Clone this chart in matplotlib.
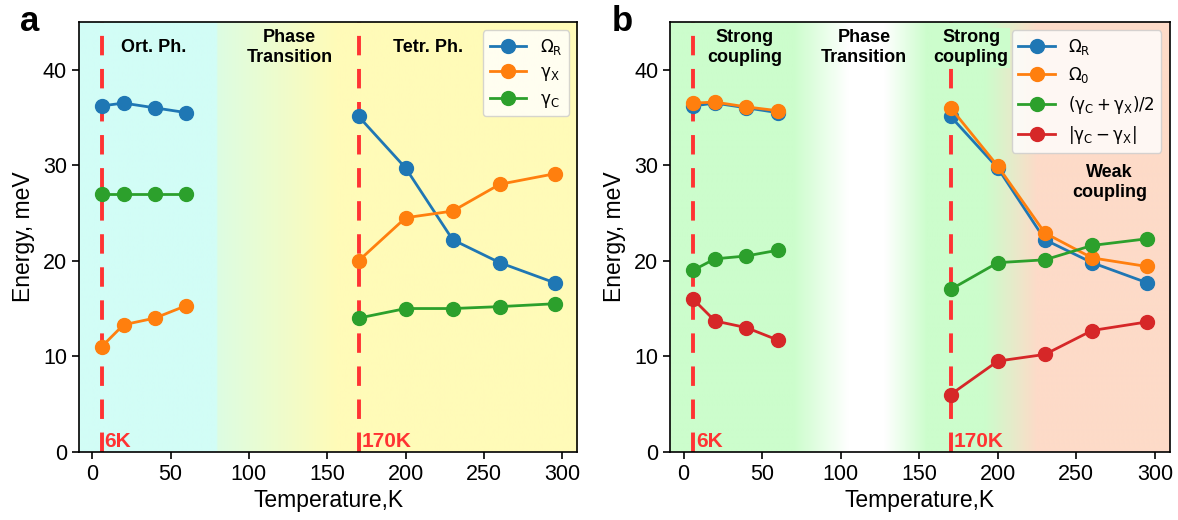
import numpy as np
import matplotlib
matplotlib.use("Agg")
matplotlib.rcParams['font.family'] = ['Liberation Sans', 'DejaVu Sans']
import matplotlib.pyplot as plt
from matplotlib.colors import to_rgb

# temperatures (K)
T_low = [6, 20, 40, 60]
T_high = [170, 200, 230, 260, 295]

# panel a
omega_R_low = [36.2, 36.5, 36.0, 35.5]
omega_R_high = [35.1, 29.7, 22.2, 19.8, 17.7]
gamma_X_low = [11.0, 13.3, 14.0, 15.3]
gamma_X_high = [20.0, 24.5, 25.2, 28.0, 29.1]
gamma_C_low = [27.0, 27.0, 27.0, 27.0]
gamma_C_high = [14.0, 15.0, 15.0, 15.2, 15.5]

# panel b
omega_0_low = [36.5, 36.6, 36.1, 35.7]
omega_0_high = [36.0, 29.9, 22.9, 20.3, 19.4]
gsum_low = [19.0, 20.2, 20.5, 21.1]
gsum_high = [17.0, 19.8, 20.1, 21.6, 22.3]
gdiff_low = [16.0, 13.7, 13.0, 11.7]
gdiff_high = [6.0, 9.5, 10.2, 12.7, 13.6]

C_BLUE, C_ORANGE, C_GREEN, C_RED = '#1f77b4', '#ff7f0e', '#2ca02c', '#d62728'
VLINE = '#ff3333'


def gradient_bg(ax, stops, xlim, ylim):
    xs = np.linspace(xlim[0], xlim[1], 600)
    pos = [s[0] for s in stops]
    cols = np.array([to_rgb(s[1]) for s in stops])
    img = np.stack([np.interp(xs, pos, cols[:, k]) for k in range(3)], axis=-1)
    img = img[np.newaxis, :, :]
    ax.imshow(img, extent=[xlim[0], xlim[1], ylim[0], ylim[1]], aspect='auto',
              zorder=0, interpolation='bilinear')


def series(ax, lo, hi, color, label):
    kw = dict(color=color, marker='o', markersize=10, linewidth=2, zorder=3)
    ax.plot(T_low, lo, label=label, **kw)
    ax.plot(T_high, hi, **kw)


fig = plt.figure(figsize=(11.78, 5.2), dpi=100)
axa = fig.add_axes([0.067, 0.131, 0.423, 0.827])
axb = fig.add_axes([0.569, 0.131, 0.424, 0.827])

xlim = (-8.45, 309.45)
ylim = (0, 45)
txt = dict(fontsize=13, fontweight='bold', ha='center', va='center',
           linespacing=1.25, zorder=4)
dash = (0, (5, 3.5))
gX = r'$\mathrm{\gamma}_\mathrm{X}$'
gC = r'$\mathrm{\gamma}_\mathrm{C}$'
gCX_sum = r'$(\mathrm{\gamma}_\mathrm{C}+\mathrm{\gamma}_\mathrm{X})/2$'
gCX_diff = r'$|\mathrm{\gamma}_\mathrm{C}-\mathrm{\gamma}_\mathrm{X}|$'

# ---- panel a
gradient_bg(axa, [(xlim[0], '#d2fdf6'), (79, '#d2fdf6'), (80, '#ddfde2'),
                  (156, '#fffbb8'), (xlim[1], '#fffbb8')], xlim, ylim)
series(axa, omega_R_low, omega_R_high, C_BLUE, r'$\Omega_\mathrm{R}$')
series(axa, gamma_X_low, gamma_X_high, C_ORANGE, gX)
series(axa, gamma_C_low, gamma_C_high, C_GREEN, gC)
for t in [6, 170]:
    axa.axvline(t, color=VLINE, ls=dash, lw=2.8, zorder=2)
axa.text(39, 42.3, 'Ort. Ph.', **txt)
axa.text(126, 42.3, 'Phase\nTransition', **txt)
axa.text(214, 42.3, 'Tetr. Ph.', **txt)
axa.legend(loc='upper right', fontsize=12, handlelength=2.2,
           borderaxespad=0.5)
axa.text(-0.118, 1.0, 'a', transform=axa.transAxes, fontsize=25,
         fontweight='bold', va='center')

# ---- panel b
gradient_bg(axb, [(xlim[0], '#ccfdcc'), (70, '#ccfdcc'), (105, '#ffffff'),
                  (128, '#ffffff'), (155, '#ccfdcc'), (192, '#ccfdcc'),
                  (225, '#fddbc8'), (xlim[1], '#fddbc8')], xlim, ylim)
series(axb, omega_R_low, omega_R_high, C_BLUE, r'$\Omega_\mathrm{R}$')
series(axb, omega_0_low, omega_0_high, C_ORANGE, r'$\Omega_0$')
series(axb, gsum_low, gsum_high, C_GREEN, gCX_sum)
series(axb, gdiff_low, gdiff_high, C_RED, gCX_diff)
for t in [6, 170]:
    axb.axvline(t, color=VLINE, ls=dash, lw=2.8, zorder=2)
axb.text(39, 42.3, 'Strong\ncoupling', **txt)
axb.text(115, 42.3, 'Phase\nTransition', **txt)
axb.text(183, 42.3, 'Strong\ncoupling',
         bbox=dict(facecolor='#ccfdcc', edgecolor='none', pad=1), **txt)
axb.text(271, 28.2, 'Weak\ncoupling', **txt)
axb.legend(loc='upper right', fontsize=12, handlelength=2.2,
           borderaxespad=0.5)
axb.text(-0.118, 1.0, 'b', transform=axb.transAxes, fontsize=25,
         fontweight='bold', va='center')

for ax in (axa, axb):
    ax.set_xlim(xlim)
    ax.set_ylim(ylim)
    ax.set_xticks([0, 50, 100, 150, 200, 250, 300])
    ax.set_yticks([0, 10, 20, 30, 40])
    ax.tick_params(labelsize=15.5, length=5, width=1.2)
    for s in ax.spines.values():
        s.set_linewidth(1.2)
    ax.set_xlabel('Temperature,K', fontsize=16.5, labelpad=3)
    ax.set_ylabel('Energy, meV', fontsize=16.5, labelpad=6)
    ax.text(8, 0.5, '6K', color=VLINE, fontsize=15, fontweight='bold',
            zorder=4)
    ax.text(172, 0.5, '170K', color=VLINE, fontsize=15, fontweight='bold',
            zorder=4)

fig.savefig('out.png', dpi=100)
